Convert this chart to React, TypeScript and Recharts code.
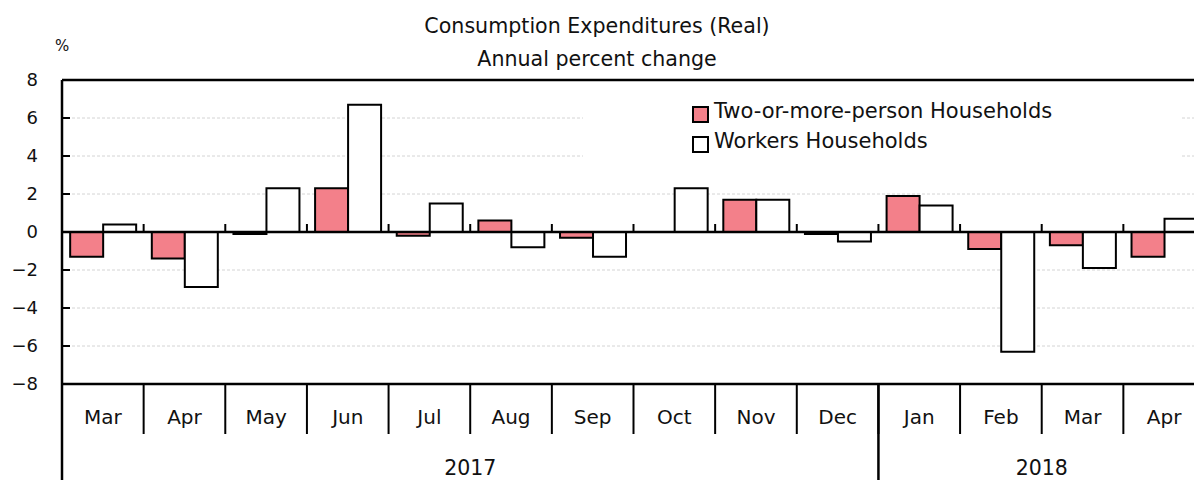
import React from "react";
import {
    BarChart,
    Bar,
    XAxis,
    YAxis,
    CartesianGrid,
    ReferenceLine,
    Legend
} from "recharts";

// months shown on the axis, oldest first
const MONTHS = ["Mar", "Apr", "May", "Jun", "Jul", "Aug", "Sep", "Oct", "Nov", "Dec", "Jan", "Feb", "Mar", "Apr"];

// year groups under the months
const YEARS = [
    { label: "2017", count: 10 },
    { label: "2018", count: 4 }
];

// annual percent change
const TWO_OR_MORE = [-1.3, -1.4, -0.1, 2.3, -0.2, 0.6, -0.3, 0, 1.7, -0.1, 1.9, -0.9, -0.7, -1.3];
const WORKERS = [0.4, -2.9, 2.3, 6.7, 1.5, -0.8, -1.3, 2.3, 1.7, -0.5, 1.4, -6.3, -1.9, 0.7];

const Y_TICKS = [-8, -6, -4, -2, 0, 2, 4, 6, 8];

const data = MONTHS.map((m, i) => ({
    month: m,
    twoOrMore: TWO_OR_MORE[i],
    workers: WORKERS[i]
}));

const RED = "#F3808A";
const FONT = "'DejaVu Sans', Verdana, sans-serif";

const CHART_W = 1205;
const CHART_H = 480;
const Y_AXIS_W = 62;
const X_AXIS_H = 96;
const TOP = 80;
const BAND = (CHART_W - Y_AXIS_W) / MONTHS.length;

// first index of each year group
const yearStarts: Record<number, { label: string; count: number }> = {};
{
    let idx = 0;
    YEARS.forEach((y) => {
        yearStarts[idx] = y;
        idx += y.count;
    });
}

const MonthTick = (props: any) => {
    const { x, y, index, payload } = props;
    const left = x - BAND / 2;
    const right = x + BAND / 2;
    const year = yearStarts[index];
    return (
        <g>
            <line x1={right} y1={y} x2={right} y2={y + 50} stroke="#000" strokeWidth={2} />
            {year && (
                <>
                    <line x1={left} y1={y} x2={left} y2={y + X_AXIS_H} stroke="#000" strokeWidth={2.5} />
                    <text
                        x={left + (year.count * BAND) / 2}
                        y={y + 91}
                        textAnchor="middle"
                        fontSize={20.5}
                        fill="#111"
                    >
                        {year.label}
                    </text>
                </>
            )}
            <text x={x} y={y + 40} textAnchor="middle" fontSize={20} fill="#111">
                {payload.value}
            </text>
        </g>
    );
};

// y tick: label on the left, short mark pointing into the plot
const ValueTick = (props: any) => {
    const { x, y, payload } = props;
    const v = payload.value as number;
    const label = v < 0 ? `\u2212${-v}` : `${v}`;
    return (
        <g>
            <line x1={x + 24} y1={y} x2={x + 32} y2={y} stroke="#000" strokeWidth={2} />
            <text x={x} y={y} dy="0.36em" textAnchor="end" fontSize={18} fill="#111">
                {label}
            </text>
        </g>
    );
};

// zero line with small upward ticks at month boundaries
const ZeroLine = (props: any) => {
    const { x1, x2, y1 } = props;
    const step = (x2 - x1) / MONTHS.length;
    return (
        <g>
            <line x1={x1} y1={y1} x2={x2} y2={y1} stroke="#000" strokeWidth={2.5} />
            {MONTHS.slice(1).map((_, i) => (
                <line
                    key={i}
                    x1={x1 + step * (i + 1)}
                    y1={y1}
                    x2={x1 + step * (i + 1)}
                    y2={y1 - 8}
                    stroke="#000"
                    strokeWidth={2}
                />
            ))}
        </g>
    );
};

const LegendBox = (props: any) => {
    const { payload } = props;
    return (
        <div style={{ position: "relative", width: "100%", height: "100%", background: "#fff" }}>
            {(payload || []).map((entry: any, i: number) => (
                <div
                    key={i}
                    style={{
                        position: "absolute",
                        left: 109,
                        top: 3 + i * 30,
                        display: "flex",
                        alignItems: "center",
                        fontSize: 21,
                        lineHeight: "25px",
                        color: "#111",
                        whiteSpace: "nowrap"
                    }}
                >
                    <svg width={17} height={17} style={{ marginRight: 5, marginTop: 6 }}>
                        <rect x={1} y={1} width={15} height={15} fill={entry.color} stroke="#000" strokeWidth={2} />
                    </svg>
                    {entry.value}
                </div>
            ))}
        </div>
    );
};

export default function App() {
    return (
        <div
            style={{
                position: "absolute",
                left: 0,
                top: 0,
                width: 1194,
                height: 480,
                overflow: "hidden",
                background: "#fff",
                fontFamily: FONT
            }}
        >
            <div style={{ position: "absolute", left: 0, top: 14, width: 1194, textAlign: "center", fontSize: 20.6, lineHeight: "24px", color: "#111" }}>
                Consumption Expenditures (Real)
            </div>
            <div style={{ position: "absolute", left: 0, top: 47, width: 1194, textAlign: "center", fontSize: 20.6, lineHeight: "24px", color: "#111" }}>
                Annual percent change
            </div>
            <div style={{ position: "absolute", left: 55, top: 36, fontSize: 15, lineHeight: "20px", color: "#111" }}>%</div>

            <BarChart
                width={CHART_W}
                height={CHART_H}
                data={data}
                margin={{ top: TOP, right: 0, bottom: 0, left: 0 }}
                barCategoryGap="10%"
                barGap={0}
                style={{ position: "absolute", left: 0, top: 0 }}
            >
                <CartesianGrid vertical={false} stroke="#d4d4d4" strokeDasharray="3 2" />
                <XAxis
                    dataKey="month"
                    interval={0}
                    height={X_AXIS_H}
                    tickSize={0}
                    tickMargin={0}
                    tickLine={false}
                    axisLine={{ stroke: "#000", strokeWidth: 2.5 }}
                    tick={<MonthTick />}
                />
                <YAxis
                    width={Y_AXIS_W}
                    domain={[-8, 8]}
                    ticks={Y_TICKS}
                    interval={0}
                    tickLine={false}
                    tickSize={0}
                    tickMargin={24}
                    axisLine={{ stroke: "#000", strokeWidth: 2.5 }}
                    tick={<ValueTick />}
                />
                <Legend
                    layout="vertical"
                    align="center"
                    verticalAlign="middle"
                    content={<LegendBox />}
                    wrapperStyle={{ left: 583, top: 96, width: 597, height: 72 }}
                />
                <Bar
                    dataKey="twoOrMore"
                    name="Two-or-more-person Households"
                    fill={RED}
                    stroke="#000"
                    strokeWidth={2}
                    isAnimationActive={false}
                />
                <Bar
                    dataKey="workers"
                    name="Workers Households"
                    fill="#fff"
                    stroke="#000"
                    strokeWidth={2}
                    isAnimationActive={false}
                />
                <ReferenceLine y={8} stroke="#000" strokeWidth={2.5} />
                <ReferenceLine y={0} shape={<ZeroLine />} />
            </BarChart>
        </div>
    );
}
